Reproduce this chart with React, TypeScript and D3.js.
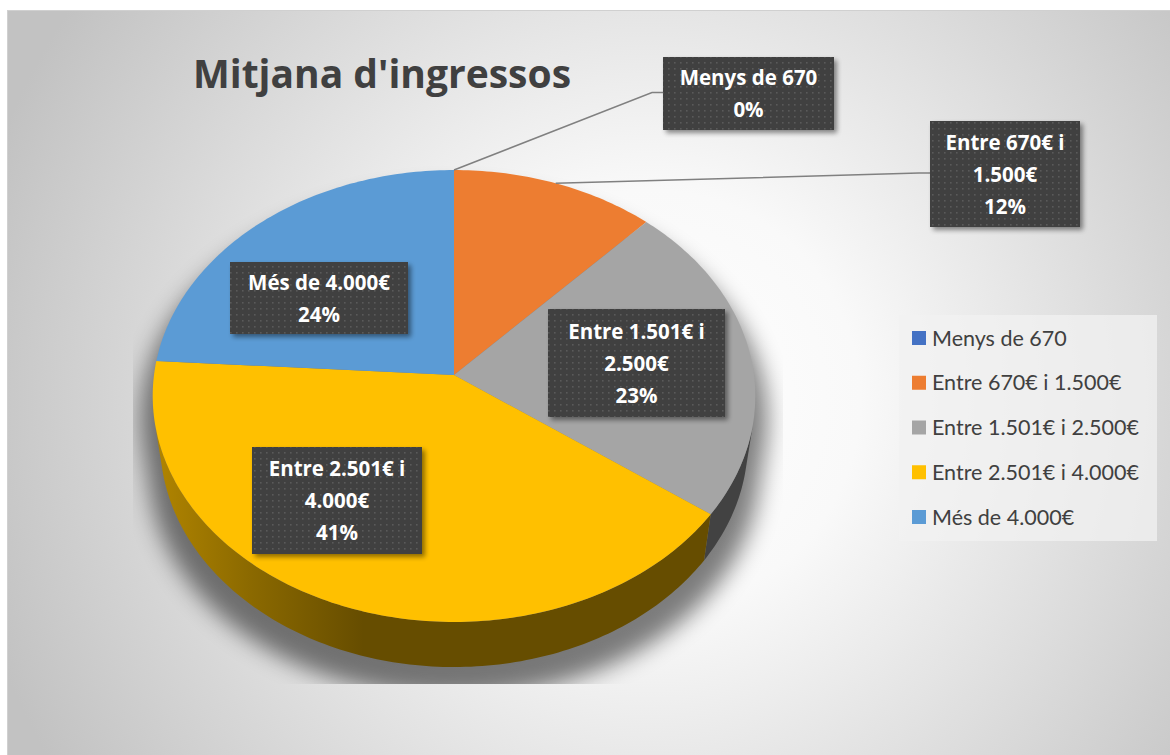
import React from "react";
import * as d3 from "d3";

// ---------- data ----------
const categories = [
  "Menys de 670",
  "Entre 670€ i 1.500€",
  "Entre 1.501€ i 2.500€",
  "Entre 2.501€ i 4.000€",
  "Més de 4.000€",
];
const values = [0, 12, 23, 41, 24];
const labelLines = [
  ["Menys de 670"],
  ["Entre 670€ i", "1.500€"],
  ["Entre 1.501€ i", "2.500€"],
  ["Entre 2.501€ i", "4.000€"],
  ["Més de 4.000€"],
];
const title = "Mitjana d'ingressos";

// ---------- styles / layout ----------
const colors = ["#4472C4", "#ED7D31", "#A5A5A5", "#FFC000", "#5B9BD5"];
// label box layout: center x, center y, width, height, leader (outside)
const labelBoxes = [
  { cx: 748.5, cy: 93.5, w: 171, h: 73, leader: true },
  { cx: 1005, cy: 174, w: 150, h: 106, leader: true },
  { cx: 636.5, cy: 363, w: 177, h: 108, leader: false },
  { cx: 337, cy: 500.5, w: 170, h: 107, leader: false },
  { cx: 319, cy: 298, w: 178, h: 72, leader: false },
];

const W = 1170;
const H = 755;
const CX = 454;
const CY = 375;
const TILT_S = 0.7467;
const TILT_C = 0.665;
const DIST = 7.16;
const FOCAL = 2148;
const DEPTH = 0.242;
const FONT_BOLD = "'Open Sans', Lato, sans-serif";
const FONT = "Lato, 'Open Sans', sans-serif";

function project(theta: number, y: number, r = 1): [number, number] {
  const X = r * Math.sin(theta);
  const Z = r * Math.cos(theta);
  const dist = DIST + Z * TILT_C - y * TILT_S;
  return [CX + (FOCAL * X) / dist, CY - (FOCAL * (Z * TILT_S + y * TILT_C)) / dist];
}

function sampleAngles(a0: number, a1: number): number[] {
  const n = Math.max(2, Math.ceil(((a1 - a0) * 180) / Math.PI));
  return d3.range(n + 1).map((i) => a0 + ((a1 - a0) * i) / n);
}

const line = d3.line<[number, number]>().x((d) => d[0]).y((d) => d[1]);

// visible side range: -1 - D*cos(tilt)*cos(theta) > 0
const cosLim = -1 / (DIST * TILT_C);
const vis0 = Math.acos(cosLim);
const vis1 = 2 * Math.PI - vis0;

export default function App() {
  const pie = d3
    .pie<number>()
    .sort(null)
    .value((d) => d)
    .startAngle(0)
    .endAngle(2 * Math.PI);
  const arcs = pie(values);
  const total = d3.sum(values);

  const topPaths = arcs.map((a) => {
    if (a.endAngle - a.startAngle <= 0) return null;
    const pts: [number, number][] = [[CX, CY]];
    sampleAngles(a.startAngle, a.endAngle).forEach((t) => pts.push(project(t, 0)));
    return line(pts) + "Z";
  });

  const sidePaths = arcs.map((a) => {
    const b0 = Math.max(a.startAngle, vis0);
    const b1 = Math.min(a.endAngle, vis1);
    if (b1 <= b0) return null;
    const ang = sampleAngles(b0, b1);
    const pts: [number, number][] = ang.map((t) => project(t, 0));
    ang.slice().reverse().forEach((t) => pts.push(project(t, -DEPTH)));
    return line(pts) + "Z";
  });

  // silhouette for shadow
  const silPts: [number, number][] = [];
  sampleAngles(vis1 - 2 * Math.PI, vis0).forEach((t) => silPts.push(project(t, 0)));
  sampleAngles(vis0, vis1).forEach((t) => silPts.push(project(t, -DEPTH)));
  const silhouette = line(silPts) + "Z";

  const sideColor = (c: string, k: number) => {
    const rgb = d3.rgb(c);
    return d3.rgb(rgb.r * k, rgb.g * k, rgb.b * k).formatHex();
  };

  const legendY = d3.scalePoint<string>().domain(categories).range([338, 517]);

  return (
    <svg width={W} height={H} style={{ display: "block", position: "absolute", left: 0, top: 0 }}>
      <defs>
        <radialGradient id="bg" gradientUnits="userSpaceOnUse" cx={650} cy={400} r={700}>
          <stop offset="0" stopColor="#FFFFFF" />
          <stop offset="0.3" stopColor="#F9F9F9" />
          <stop offset="1" stopColor="#C2C2C2" />
        </radialGradient>
        <pattern id="dots" width={6} height={6} patternUnits="userSpaceOnUse">
          <rect width={6} height={6} fill="#404040" />
          <rect x={2} y={2} width={1.6} height={1.6} fill="#5A5A5A" />
        </pattern>
        <filter id="boxShadow" x="-20%" y="-20%" width="140%" height="150%">
          <feGaussianBlur in="SourceAlpha" stdDeviation="2.5" />
          <feOffset dx="3" dy="3" result="b" />
          <feComponentTransfer>
            <feFuncA type="linear" slope="0.45" />
          </feComponentTransfer>
          <feMerge>
            <feMergeNode />
            <feMergeNode in="SourceGraphic" />
          </feMerge>
        </filter>
        <filter id="pieShadow" x="-20%" y="-20%" width="140%" height="140%">
          <feGaussianBlur stdDeviation="11" />
        </filter>
        <clipPath id="shadowClip">
          <rect x={133} y={150} width={650} height={534} />
        </clipPath>
        {arcs.map((a, i) => (
          <linearGradient key={i} id={`side${i}`} gradientUnits="userSpaceOnUse" x1={150} x2={760} y1={0} y2={0}>
            <stop offset="0" stopColor={sideColor(colors[i], 0.7)} />
            <stop offset="0.16" stopColor={sideColor(colors[i], 0.55)} />
            <stop offset="0.35" stopColor={sideColor(colors[i], 0.4)} />
            <stop offset="1" stopColor={sideColor(colors[i], 0.4)} />
          </linearGradient>
        ))}
      </defs>

      {/* chart area */}
      <rect x={7.5} y={10.5} width={1170} height={760} fill="url(#bg)" stroke="#D0D0D0" strokeWidth={1} />

      {/* title */}
      <text x={382} y={88} textAnchor="middle" fontFamily={FONT_BOLD} fontWeight={700} fontSize={39} fill="#404040">
        {title}
      </text>

      {/* shadow */}
      <g clipPath="url(#shadowClip)">
        <path
          d={silhouette}
          transform={`translate(${CX},${CY + 24}) scale(1.04,1.02) translate(${-CX},${-CY})`}
          fill="#000"
          opacity={0.5}
          filter="url(#pieShadow)"
        />
      </g>

      {/* sides */}
      {sidePaths.map((p, i) => (p ? <path key={`s${i}`} d={p} fill={`url(#side${i})`} /> : null))}
      {/* tops */}
      {topPaths.map((p, i) => (p ? <path key={`t${i}`} d={p} fill={colors[i]} /> : null))}

      {/* leader lines */}
      {arcs.map((a, i) => {
        const b = labelBoxes[i];
        if (!b.leader) return null;
        const mid = (a.startAngle + a.endAngle) / 2;
        const p = project(mid, 0);
        const left = b.cx - b.w / 2;
        const pts: [number, number][] = [p, [left - 11, b.cy - 1], [left, b.cy - 1]];
        return <path key={`l${i}`} d={line(pts) || ""} fill="none" stroke="#808080" strokeWidth={1.5} />;
      })}

      {/* labels */}
      {arcs.map((a, i) => {
        const b = labelBoxes[i];
        const lines = [...labelLines[i], `${Math.round((values[i] / total) * 100)}%`];
        const lh = 32;
        const y0 = b.cy - ((lines.length - 1) * lh) / 2 + 7.5;
        return (
          <g key={`b${i}`}>
            <rect x={b.cx - b.w / 2} y={b.cy - b.h / 2} width={b.w} height={b.h} fill="url(#dots)" filter="url(#boxShadow)" />
            {lines.map((t, j) => (
              <text
                key={j}
                x={b.cx}
                y={y0 + j * lh}
                textAnchor="middle"
                fontFamily={FONT_BOLD}
                fontWeight={700}
                fontSize={20.5}
                fill="#FFFFFF"
              >
                {t}
              </text>
            ))}
          </g>
        );
      })}

      {/* legend */}
      <rect x={899} y={315} width={258} height={226} fill="#F2F2F2" opacity={0.75} />
      {categories.map((c, i) => (
        <g key={`lg${i}`} transform={`translate(912,${legendY(c)})`}>
          <rect x={0} y={-7} width={14} height={14} fill={colors[i]} />
          <text x={20} y={7.5} fontFamily={FONT} fontSize={21.5} fill="#404040">
            {c}
          </text>
        </g>
      ))}
    </svg>
  );
}
